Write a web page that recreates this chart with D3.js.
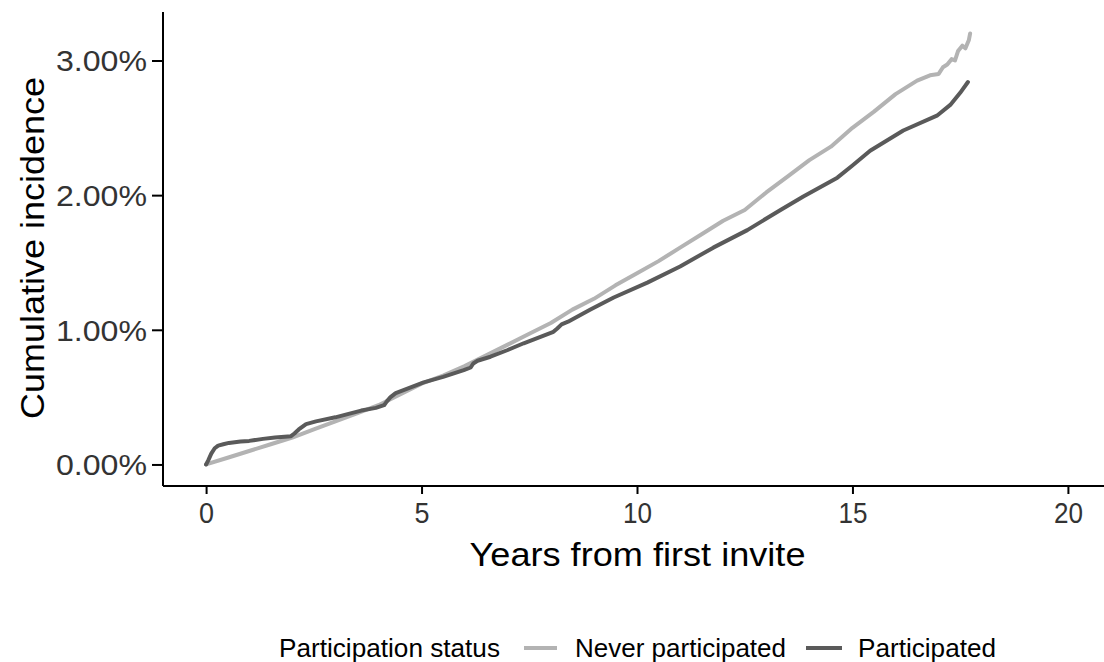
<!DOCTYPE html>
<html>
<head>
<meta charset="utf-8">
<script src="https://cdn.jsdelivr.net/npm/d3@7"></script>
<style>
  html, body { margin: 0; padding: 0; background: #fff; }
  svg { display: block; font-family: "Liberation Sans", Arial, Helvetica, sans-serif; }
</style>
</head>
<body>
<svg id="chart" width="1104" height="662"></svg>
<script>
// Cumulative incidence (%) by years since first invite, per participation group
const neverYears = [0, 0.5, 1, 1.5, 2, 2.5, 3, 3.5, 4, 4.5, 5, 5.5, 6, 6.5, 7, 7.5, 8, 8.5, 9, 9.5,
  10, 10.5, 11, 11.5, 12, 12.5, 13, 13.5, 14, 14.5, 15, 15.5, 16, 16.5, 16.8, 17.0, 17.1, 17.2, 17.3, 17.38, 17.45, 17.55, 17.62, 17.7, 17.73];
const neverValues = [0, 0.05, 0.10, 0.15, 0.20, 0.26, 0.32, 0.38, 0.44, 0.52, 0.60, 0.66, 0.73, 0.81, 0.89, 0.97, 1.05, 1.15, 1.23, 1.33,
  1.42, 1.51, 1.61, 1.71, 1.81, 1.89, 2.02, 2.14, 2.26, 2.36, 2.50, 2.62, 2.75, 2.85, 2.89, 2.90, 2.95, 2.97, 3.01, 3.00, 3.07, 3.11, 3.09, 3.15, 3.20];

const partYears = [0, 0.05, 0.12, 0.2, 0.28, 0.4, 0.53, 0.8, 1.0, 1.32, 1.6, 1.97, 2.05, 2.15, 2.32, 2.55, 3.0, 3.24, 3.6, 3.94,
  4.13, 4.2, 4.28, 4.4, 5.05, 5.5, 5.98, 6.14, 6.2, 6.3, 6.6, 7.0, 7.37, 7.7, 8.06, 8.15, 8.25, 8.4, 8.92, 9.46,
  10.24, 11.0, 11.77, 12.56, 13.33, 13.86, 14.65, 15.0, 15.41, 16.18, 16.96, 17.27, 17.5, 17.68];
const partValues = [0, 0.03, 0.08, 0.12, 0.14, 0.15, 0.16, 0.17, 0.175, 0.19, 0.20, 0.21, 0.23, 0.26, 0.30, 0.32, 0.35, 0.37, 0.40, 0.42,
  0.44, 0.47, 0.50, 0.53, 0.61, 0.65, 0.70, 0.72, 0.75, 0.77, 0.80, 0.85, 0.90, 0.94, 0.985, 1.01, 1.04, 1.06, 1.15, 1.24,
  1.35, 1.47, 1.61, 1.74, 1.89, 1.99, 2.13, 2.22, 2.33, 2.48, 2.59, 2.67, 2.76, 2.84];

const seriesNames = ["Never participated", "Participated"];
const seriesColors = ["#b3b3b3", "#5a5a5a"];
const xTicks = [0, 5, 10, 15, 20];
const yTicks = [0, 1, 2, 3];
const legendTitle = "Participation status";
const xTitle = "Years from first invite";
const yTitle = "Cumulative incidence";

const svg = d3.select("#chart");
const plotLeft = 163, plotRight = 1111, plotTop = 12, plotBottom = 486;

const x = d3.scaleLinear().domain([-1, 21]).range([plotLeft, plotRight]);
const y = d3.scaleLinear().domain([-0.16, 3.36]).range([plotBottom, plotTop]);

const series = [
  { name: seriesNames[0], color: seriesColors[0], pts: neverYears.map((t, i) => [t, neverValues[i]]) },
  { name: seriesNames[1], color: seriesColors[1], pts: partYears.map((t, i) => [t, partValues[i]]) }
];

const line = d3.line().x(d => x(d[0])).y(d => y(d[1])).curve(d3.curveLinear);

svg.append("g").selectAll("path")
  .data(series)
  .join("path")
  .attr("d", d => line(d.pts))
  .attr("fill", "none")
  .attr("stroke", d => d.color)
  .attr("stroke-width", 4)
  .attr("stroke-linejoin", "round")
  .attr("stroke-linecap", "round");

// axes
const xAxis = svg.append("g")
  .attr("transform", `translate(0,${plotBottom})`)
  .call(d3.axisBottom(x).tickValues(xTicks).tickSize(8).tickPadding(6).tickFormat(d3.format("d")));
const yAxis = svg.append("g")
  .attr("transform", `translate(${plotLeft},0)`)
  .call(d3.axisLeft(y).tickValues(yTicks).tickSize(11).tickPadding(5).tickFormat(d => d3.format(".2f")(d) + "%"));

[xAxis, yAxis].forEach(g => {
  g.select(".domain").attr("stroke", "#000").attr("stroke-width", 2);
  g.selectAll(".tick line").attr("stroke", "#000").attr("stroke-width", 2);
  g.selectAll(".tick text").attr("fill", "#333").attr("font-size", 29);
});
xAxis.select(".domain").attr("d", `M${plotLeft},0H1104`);
yAxis.select(".domain").attr("d", `M0,${plotTop}V${plotBottom}`);
xAxis.selectAll(".tick text").attr("dy", null).attr("y", 37)
  .attr("textLength", d => d >= 10 ? 29 : 15).attr("lengthAdjust", "spacingAndGlyphs");
yAxis.selectAll(".tick text").attr("dy", "0.36em")
  .attr("textLength", 91).attr("lengthAdjust", "spacingAndGlyphs");

// axis titles
svg.append("text")
  .attr("x", 637.5).attr("y", 566)
  .attr("text-anchor", "middle")
  .attr("font-size", 33)
  .attr("textLength", 336).attr("lengthAdjust", "spacingAndGlyphs")
  .attr("fill", "#000")
  .text(xTitle);

svg.append("text")
  .attr("transform", "translate(44,248) rotate(-90)")
  .attr("text-anchor", "middle")
  .attr("font-size", 33)
  .attr("textLength", 342).attr("lengthAdjust", "spacingAndGlyphs")
  .attr("fill", "#000")
  .text(yTitle);

// legend
const legend = svg.append("g").attr("font-size", 25).attr("fill", "#000");
legend.append("text").attr("x", 279).attr("y", 657)
  .attr("textLength", 221).attr("lengthAdjust", "spacingAndGlyphs").text(legendTitle);
const legendItems = [
  { key: [524, 557], textX: 575, len: 211 },
  { key: [806, 842], textX: 858, len: 138 }
];
legendItems.forEach((it, i) => {
  legend.append("line")
    .attr("x1", it.key[0]).attr("x2", it.key[1])
    .attr("y1", 648).attr("y2", 648)
    .attr("stroke", series[i].color).attr("stroke-width", 4);
  legend.append("text").attr("x", it.textX).attr("y", 657)
    .attr("textLength", it.len).attr("lengthAdjust", "spacingAndGlyphs")
    .text(series[i].name);
});
</script>
</body>
</html>
